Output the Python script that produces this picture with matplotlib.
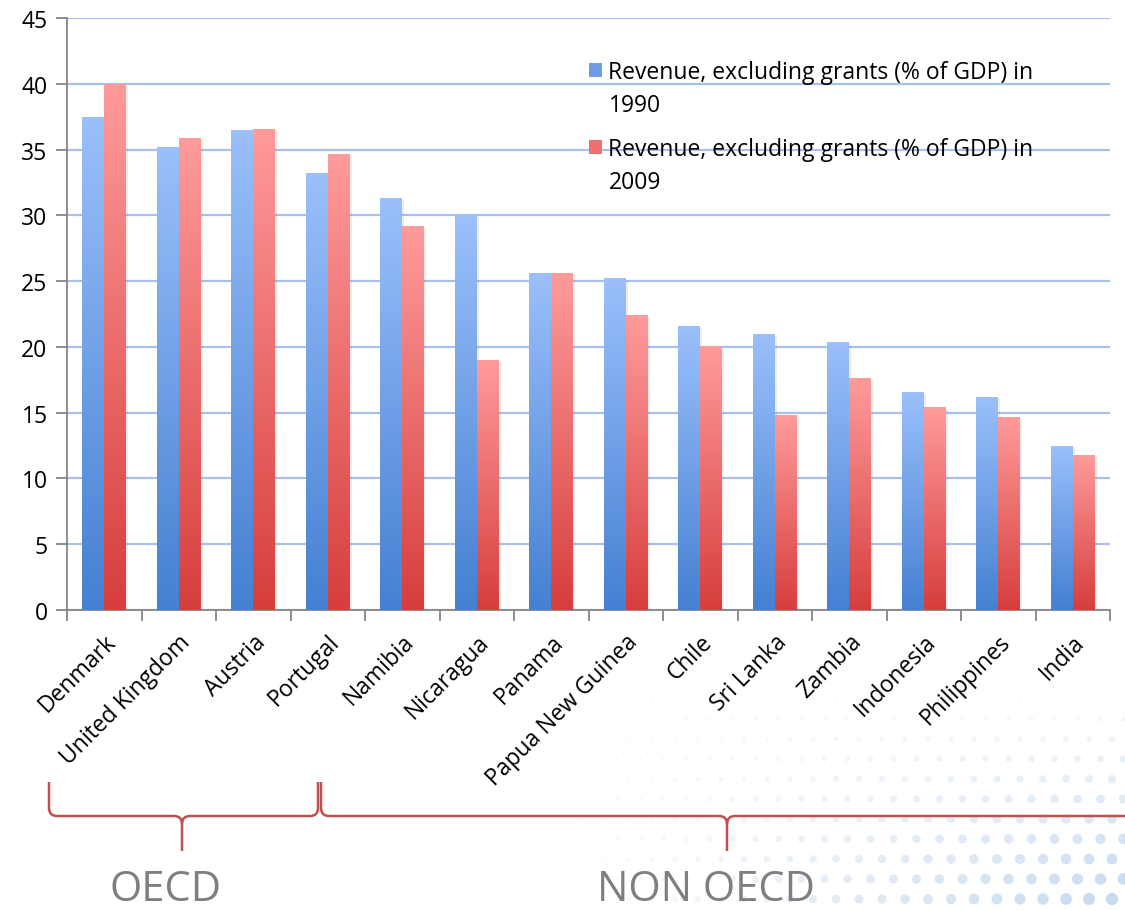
import numpy as np
import matplotlib
matplotlib.use("Agg")
import matplotlib.pyplot as plt
from matplotlib.patches import Rectangle
from matplotlib.path import Path
from matplotlib.patches import PathPatch
from matplotlib.legend_handler import HandlerPatch
from matplotlib.colors import LinearSegmentedColormap

countries = ["Denmark", "United Kingdom", "Austria", "Portugal", "Namibia",
             "Nicaragua", "Panama", "Papua New Guinea", "Chile", "Sri Lanka",
             "Zambia", "Indonesia", "Philippines", "India"]
rev_1990 = [37.5, 35.2, 36.5, 33.2, 31.3, 30.0, 25.6, 25.2, 21.6, 21.0, 20.4, 16.6, 16.2, 12.5]
rev_2009 = [40.0, 35.9, 36.6, 34.7, 29.2, 19.0, 25.6, 22.4, 20.1, 14.8, 17.6, 15.4, 14.7, 11.8]
series_labels = ["Revenue, excluding grants (% of GDP) in\n1990",
                 "Revenue, excluding grants (% of GDP) in\n2009"]
yticks = [0, 5, 10, 15, 20, 25, 30, 35, 40, 45]
groups = ["OECD", "NON OECD"]

FONT = ["Open Sans", "DejaVu Sans"]
plt.rcParams["font.family"] = FONT
FS = 16.5

fig = plt.figure(figsize=(11.25, 9.12), dpi=100)
fig.patch.set_facecolor("white")

# faint decorative dot pattern in lower right
gx, gy = np.meshgrid(np.arange(560, 1140, 23), np.arange(700, 930, 20))
gx = gx + (np.arange(gx.shape[0])[:, None] % 2) * 11.5
dist = np.clip(((gx - 600) / 540), 0, 1) * np.clip((gy - 700) / 230, 0, 1)
dotax = fig.add_axes([0, 0, 1, 1], zorder=-5)
dotax.set_xlim(0, 1125)
dotax.set_ylim(912, 0)
dotax.axis("off")
cols = np.zeros((gx.size, 4))
cols[:, :3] = matplotlib.colors.to_rgb("#bcd4ee")
cols[:, 3] = np.clip(0.1 + 0.9 * dist.ravel(), 0, 1)
dotax.scatter(gx.ravel(), gy.ravel(), s=(4 + 90 * dist.ravel()), c=cols, linewidths=0)

ax = fig.add_axes([67 / 1125, 1 - 611 / 912, (1110 - 67) / 1125, (611 - 19) / 912])
ax.set_facecolor("none")

n = len(countries)
x = np.arange(n)
w = 0.295
blue_cmap = LinearSegmentedColormap.from_list("b", ["#4580d2", "#9bc0fb"])
red_cmap = LinearSegmentedColormap.from_list("r", ["#d63e3d", "#ff9b9b"])

bars1 = ax.bar(x - w / 2, rev_1990, w, color="#7aa6ec", zorder=3)
bars2 = ax.bar(x + w / 2, rev_2009, w, color="#f07c7c", zorder=3)

grad = np.linspace(0, 1, 256).reshape(-1, 1)
for bars, cmap in ((bars1, blue_cmap), (bars2, red_cmap)):
    for b in bars:
        x0, y0 = b.get_x(), b.get_y()
        bw, bh = b.get_width(), b.get_height()
        ax.add_patch(Rectangle((x0 + 0.03, 0), bw, bh - 0.15, color="#000000",
                               alpha=0.07, zorder=2, linewidth=0))
        im = ax.imshow(grad, cmap=cmap, origin="lower", aspect="auto",
                       extent=(x0, x0 + bw, y0, y0 + bh), zorder=3.5)
        im.set_clip_path(b)

ax.set_xlim(-0.5, n - 0.5)
ax.set_ylim(0, 45)
ax.set_yticks(yticks)
ax.set_xticks(x)
ax.set_xticklabels(countries, rotation=45, ha="right", rotation_mode="anchor",
                   fontsize=FS)
ax.tick_params(axis="x", length=0, pad=14)
ax.set_xticks(np.arange(-0.5, n, 1), minor=True)
ax.tick_params(axis="x", which="minor", length=8, color="#868686", width=1.3)
ax.tick_params(axis="y", length=8, color="#868686", width=1.3, labelsize=FS, pad=6)
for s in ("top", "right"):
    ax.spines[s].set_visible(False)
for s in ("left", "bottom"):
    ax.spines[s].set_color("#868686")
    ax.spines[s].set_linewidth(1.3)
ax.yaxis.grid(True, color="#a9c1ea", linewidth=1.6, zorder=1)
ax.set_axisbelow(True)


def top_square(legend, orig_handle, xdescent, ydescent, width, height, fontsize):
    return Rectangle((-xdescent, -ydescent + 0.85 * fontsize), width, height)


h1 = Rectangle((0, 0), 1, 1, facecolor="#6d9de6", label=series_labels[0])
h2 = Rectangle((0, 0), 1, 1, facecolor="#ec7070", label=series_labels[1])
leg = ax.legend(handles=[h1, h2], loc="upper left",
                bbox_to_anchor=(589 / 1125, 1 - 61 / 912), bbox_transform=fig.transFigure,
                frameon=False, fontsize=FS, handlelength=0.55, handleheight=0.55,
                handletextpad=0.3, labelspacing=0.88, borderpad=0, borderaxespad=0,
                handler_map={Rectangle: HandlerPatch(patch_func=top_square)})
for t in leg.get_texts():
    t.set_linespacing(1.5)

# group braces (in figure pixel coordinates)
bax = fig.add_axes([0, 0, 1, 1], zorder=5)
bax.set_xlim(0, 1125)
bax.set_ylim(912, 0)
bax.axis("off")


def brace(x0, x1, xm, ytop=783, ymid=817, ybot=852, r=8):
    verts = [(x0, ytop), (x0, ymid - r), (x0, ymid), (x0 + r, ymid),
             (xm - r, ymid), (xm, ymid), (xm, ymid + r), (xm, ybot),
             (xm, ymid + r), (xm, ymid), (xm + r, ymid),
             (x1 - r, ymid), (x1, ymid), (x1, ymid - r), (x1, ytop)]
    codes = [Path.MOVETO, Path.LINETO, Path.CURVE3, Path.CURVE3,
             Path.LINETO, Path.CURVE3, Path.CURVE3, Path.LINETO,
             Path.MOVETO, Path.CURVE3, Path.CURVE3,
             Path.LINETO, Path.CURVE3, Path.CURVE3, Path.LINETO]
    bax.add_patch(PathPatch(Path(verts, codes), fill=False, edgecolor="#c0504d",
                            linewidth=1.8))


brace(49, 318, 182)
brace(321, 1135, 727)
bax.text(166, 890, groups[0], ha="center", va="center", fontsize=30,
         color="#7f7f7f", family=["Liberation Sans Narrow", "Open Sans", "DejaVu Sans"])
bax.text(706, 890, groups[1], ha="center", va="center", fontsize=30,
         color="#7f7f7f", family=["Liberation Sans Narrow", "Open Sans", "DejaVu Sans"])

fig.savefig("out.png", dpi=100)
